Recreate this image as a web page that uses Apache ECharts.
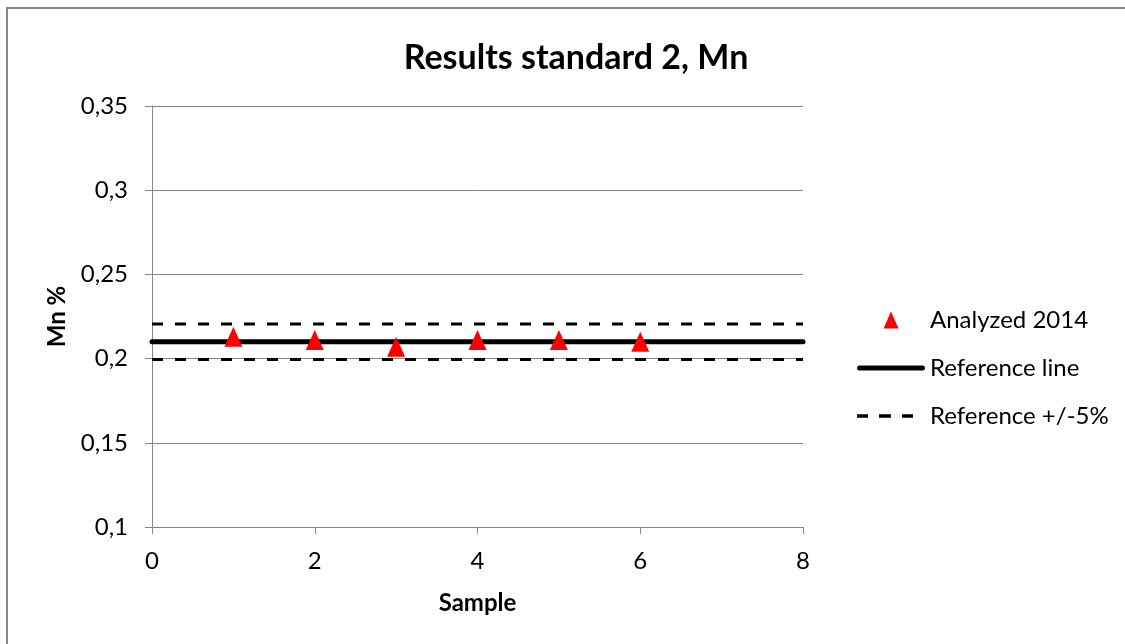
<!DOCTYPE html>
<html>
<head>
<meta charset="utf-8">
<script src="https://cdn.jsdelivr.net/npm/echarts@6/dist/echarts.min.js"></script>
<style>
html,body{margin:0;padding:0;background:#fff;}
#chart{width:1125px;height:644px;}
</style>
</head>
<body>
<div id="chart"></div>
<script>
// ---- data ----
const sampleNumbers = [1, 2, 3, 4, 5, 6];
const analyzed2014 = [0.213, 0.211, 0.207, 0.211, 0.211, 0.210];
const lineX = [0, 8];
const referenceLine = [0.21, 0.21];
const upperLimit = [0.2205, 0.2205];
const lowerLimit = [0.1995, 0.1995];
const seriesNames = ['Analyzed 2014', 'Reference line', 'Reference +/-5%'];
const titleText = 'Results standard 2, Mn';
const xAxisName = 'Sample';
const yAxisName = 'Mn %';

const pair = (xs, ys) => xs.map((x, i) => [x, ys[i]]);
const FONT = 'Lato';

const chart = echarts.init(document.getElementById('chart'), null, {renderer: 'canvas'});
chart.setOption({
  animation: false,
  backgroundColor: '#fff',
  textStyle: {fontFamily: FONT},
  graphic: [{
    type: 'rect', silent: true,
    shape: {x: 7, y: 8, width: 1140, height: 660},
    style: {fill: 'none', stroke: '#888888', lineWidth: 2}
  }],
  title: {
    text: titleText,
    left: 571, top: 36, textAlign: 'center',
    textStyle: {fontFamily: FONT, fontWeight: 'bold', fontSize: 34, color: '#000'}
  },
  grid: {left: 152, right: 322, top: 106, bottom: 117, containLabel: false},
  legend: {
    orient: 'vertical',
    left: 852, top: 303,
    itemWidth: 68, itemHeight: 17, itemGap: 24,
    textStyle: {fontFamily: FONT, fontSize: 24, color: '#000'},
    data: [
      {name: seriesNames[0], icon: 'path://M0,17L7.5,0L15,17Z', itemStyle: {color: '#ff0000', opacity: 1}},
      {name: seriesNames[1], icon: 'path://M2.5,0H65.5A2.5,2.5,0,0,1,65.5,5H2.5A2.5,2.5,0,0,1,2.5,0Z', itemStyle: {color: '#000'}},
      {name: seriesNames[2], icon: 'path://M0,0H11V3.5H0ZM22,0H34V3.5H22ZM45,0H56V3.5H45ZM67.99,1.7H68V1.8H67.99Z', itemStyle: {color: '#000'}}
    ]
  },
  xAxis: {
    type: 'value', min: 0, max: 8, interval: 2,
    name: xAxisName, nameLocation: 'middle', nameGap: 64,
    nameTextStyle: {fontFamily: FONT, fontWeight: 'bold', fontSize: 24, color: '#000'},
    axisLine: {show: true, lineStyle: {color: '#868686', width: 1}},
    axisTick: {show: true, length: 7, lineStyle: {color: '#868686'}},
    axisLabel: {margin: 22, fontFamily: FONT, fontSize: 24, color: '#000'},
    splitLine: {show: false}
  },
  yAxis: {
    type: 'value', min: 0.1, max: 0.35, interval: 0.05,
    name: yAxisName, nameLocation: 'middle', nameGap: 83, nameRotate: 90,
    nameTextStyle: {fontFamily: FONT, fontWeight: 'bold', fontSize: 24, color: '#000'},
    axisLine: {show: true, lineStyle: {color: '#868686', width: 1}},
    axisTick: {show: true, length: 7, lineStyle: {color: '#868686'}},
    axisLabel: {
      margin: 24, fontFamily: FONT, fontSize: 24, color: '#000',
      formatter: v => String(Math.round(v * 100) / 100).replace('.', ',')
    },
    splitLine: {show: true, lineStyle: {color: '#868686', width: 1}}
  },
  series: [
    {
      name: seriesNames[2], type: 'line', symbol: 'none', z: 2,
      data: pair(lineX, upperLimit),
      lineStyle: {color: '#000', width: 3, type: [11, 12]},
      itemStyle: {color: '#000'}
    },
    {
      name: seriesNames[2], type: 'line', symbol: 'none', z: 2,
      data: pair(lineX, lowerLimit),
      lineStyle: {color: '#000', width: 3, type: [11, 12]},
      itemStyle: {color: '#000'}
    },
    {
      name: seriesNames[1], type: 'line', symbol: 'none', z: 3,
      data: pair(lineX, referenceLine),
      lineStyle: {color: '#000', width: 5, cap: 'round'},
      itemStyle: {color: '#000'}
    },
    {
      name: seriesNames[0], type: 'scatter', z: 4,
      symbol: 'triangle', symbolSize: [18, 20],
      data: pair(sampleNumbers, analyzed2014),
      itemStyle: {color: '#ff0000', opacity: 1}
    }
  ]
});
</script>
</body>
</html>
